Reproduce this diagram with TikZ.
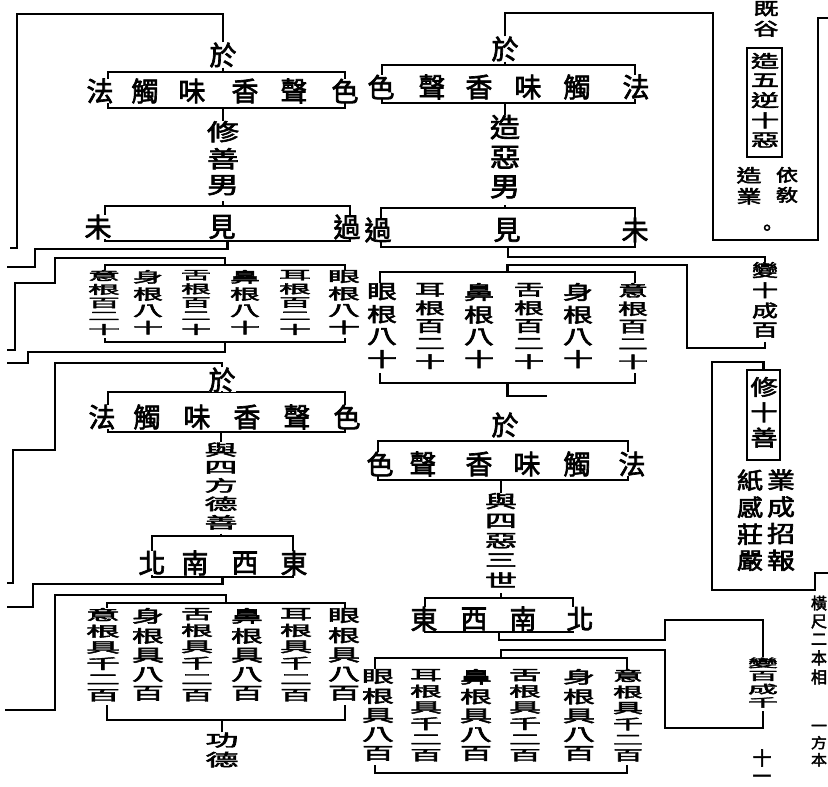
\documentclass[tikz,border=0pt]{standalone}
\usepackage{fontspec}
\usepackage{graphicx}
\newfontfamily\cjk[AutoFakeBold=2.5]{Noto Sans CJK TC}
\usetikzlibrary{calc}
% a column of characters squeezed into a box of width #1 and height #2
\newcommand\vstack[3]{\resizebox*{#1}{#2}{\fontsize{20}{22}\selectfont\begin{tabular}{@{}c@{}}#3\end{tabular}}}

\begin{document}
\begin{tikzpicture}[x=1pt, y=-1pt,
  wire/.style={line width=2.2pt},
  rootbox/.style={draw, line width=2.2pt, inner sep=0pt},
  glyph/.style={font=\cjk\bfseries\fontsize{27}{27}\selectfont, fill=white, inner sep=0pt},
  col/.style={font=\cjk\bfseries, fill=white, inner sep=0pt}
]
  \useasboundingbox (0,0) rectangle (828,787);
  \fill[white] (0,0) rectangle (828,787);
  \clip (0,0) rectangle (828,787);

  % boxes
  \node[rootbox, minimum width=237pt, minimum height=36pt]  (boxA1)  at (226.5,90) {};
  \node[rootbox, minimum width=245pt, minimum height=35pt]  (boxA2)  at (227.5,223.5) {};
  \node[rootbox, minimum width=253pt, minimum height=38pt]  (boxAR1) at (508.5,84) {};
  \node[rootbox, minimum width=254pt, minimum height=39pt]  (boxAR2) at (508,227.5) {};
  \node[rootbox, minimum width=240pt, minimum height=77pt]  (boxB1)  at (225,303.5) {};
  \node[rootbox, minimum width=255pt, minimum height=111pt] (boxB2)  at (507.5,327.5) {};
  \node[rootbox, minimum width=237pt, minimum height=40pt]  (boxC1)  at (226.5,412) {};
  \node[rootbox, minimum width=141pt, minimum height=41pt]  (boxC2)  at (222.5,556.5) {};
  \node[rootbox, minimum width=250pt, minimum height=39pt]  (boxCR1) at (503,460.5) {};
  \node[rootbox, minimum width=148pt, minimum height=34pt]  (boxCR2) at (499,615) {};
  \node[rootbox, minimum width=238pt, minimum height=117pt] (boxD1)  at (226,661.5) {};
  \node[rootbox, minimum width=252pt, minimum height=115pt] (boxD2)  at (501,715.5) {};
  \node[rootbox, minimum width=35pt, minimum height=109pt]  (boxE1)  at (764.5,102.5) {};
  \node[rootbox, minimum width=33pt, minimum height=90pt]   (boxE2)  at (763.5,415) {};

  % labels standing on the connectors
  \node[glyph] (yuA) at (223,55) {於};
  \node[glyph] (yuB) at (505,49) {於};
  \node[glyph] (yuC) at (222,380) {於};
  \node[glyph] (yuD) at (505,425) {於};
  \node[col] (vA) at (223,161) {\vstack{32pt}{80pt}{修\\善\\男}};
  \node[col] (vB) at (505,160) {\vstack{30pt}{90pt}{造\\惡\\男}};
  \node[col] (vC) at (221,488) {\vstack{33pt}{91pt}{與\\四\\方\\德\\善}};
  \node[col] (vD) at (501,543) {\vstack{32pt}{100pt}{與\\四\\惡\\三\\世}};
  \node[col] (gongde) at (222,752) {\vstack{33pt}{39pt}{功\\德}};
  \node[col] (bianA) at (765,302) {\vstack{26pt}{80pt}{變\\十\\成\\百}};
  \node[col] (bianB) at (763,684) {\vstack{30pt}{53pt}{變\\百\\成\\千}};

  % free ends at the page edges
  \coordinate (outA)  at (10,248);
  \coordinate (outA2) at (7,267);
  \coordinate (outB1) at (7,350);
  \coordinate (outB2) at (7,363);
  \coordinate (outC1) at (7,583);
  \coordinate (outC2) at (7,607);
  \coordinate (outD1) at (5,710);
  \coordinate (outR1) at (828,18);
  \coordinate (outR2) at (828,573);
  \coordinate (stubB) at (547,396);

  % left column
  \draw[wire] (yuA.north) |- (17,14) |- (outA);
  \draw[wire] (yuA.south) -- (yuA.south |- boxA1.north);
  \draw[wire] (vA.north) -- (vA.north |- boxA1.south);
  \draw[wire] (vA.south) -- (vA.south |- boxA2.north);
  \draw[wire] (boxA2.south) |- (35,249) |- (outA2);
  \draw[wire] (boxB1.north) |- (55,258) |- (15,283) |- (outB1);
  \draw[wire] (boxB1.south) |- (28,352) |- (outB2);
  \draw[wire] (yuC.north) |- (55,363) |- (13,450) |- (outC1);
  \draw[wire] (yuC.south) -- (yuC.south |- boxC1.north);
  \draw[wire] (vC.north) -- (vC.north |- boxC1.south);
  \draw[wire] (vC.south) -- (vC.south |- boxC2.north);
  \draw[wire] (boxC2.south) |- (33,584) |- (outC2);
  \draw[wire] (boxD1.north) |- (55,595) |- (outD1);
  \draw[wire] (gongde.north) -- (gongde.north |- boxD1.south);
  % right column
  \draw[wire] (yuB.north) |- (713,13) |- (818,240) |- (outR1);
  \draw[wire] (yuB.south) -- (yuB.south |- boxAR1.north);
  \draw[wire] (vB.north) -- (vB.north |- boxAR1.south);
  \draw[wire] (vB.south) -- (vB.south |- boxAR2.north);
  \draw[wire] (boxAR2.south) |- (765,257) -- (bianA.north);
  \draw[wire] (boxB2.north) |- (687,265) |- (765,348) -- (bianA.south);
  \draw[wire] (boxB2.south) |- (stubB);
  \draw[wire] (vD.north) -- (vD.north |- boxCR1.south);
  \draw[wire] (vD.south) -- (vD.south |- boxCR2.north);
  \draw[wire] (boxCR2.south) |- (665,640) |- (763,620) -- (bianB.north);
  \draw[wire] (boxD2.north) |- (665,650) |- (763,728) -- (bianB.south);
  \draw[wire] (boxE2.north) |- (712,362) |- (815,590) |- (outR2);

  % rows of the six objects, the times and the quarters
  \foreach \x/\c in {100/法,145/觸,192/味,245/香,294/聲,345/色}
    \node[glyph] at (\x,91) {\c};
  \foreach \x/\c in {381/色,432/聲,479/香,528/味,577/觸,636/法}
    \node[glyph] at (\x,87) {\c};
  \foreach \x/\c in {98/未,222/見,347/過}
    \node[glyph] at (\x,227) {\c};
  \foreach \x/\c in {378/過,507/見,635/未}
    \node[glyph] at (\x,230) {\c};
  \foreach \x/\c in {102/法,147/觸,197/味,247/香,297/聲,347/色}
    \node[glyph] at (\x,417) {\c};
  \foreach \x/\c in {380/色,423/聲,479/香,527/味,577/觸,632/法}
    \node[glyph] at (\x,464) {\c};
  \foreach \x/\c in {152/北,195/南,245/西,294/東}
    \node[glyph] at (\x,563) {\c};
  \foreach \x/\c in {424/東,474/西,523/南,580/北}
    \node[glyph] at (\x,619) {\c};

  % six roots, tens
  \node[col] (b1a) at (104,304) {\vstack{32pt}{68pt}{意\\根\\百\\二\\十}};
  \node[col] (b1b) at (148,304) {\vstack{30pt}{68pt}{身\\根\\八\\十}};
  \node[col] (b1c) at (196,304) {\vstack{30pt}{68pt}{舌\\根\\百\\二\\十}};
  \node[col] (b1d) at (245,304) {\vstack{30pt}{68pt}{鼻\\根\\八\\十}};
  \node[col] (b1e) at (295,304) {\vstack{32pt}{68pt}{耳\\根\\百\\二\\十}};
  \node[col] (b1f) at (344,304) {\vstack{32pt}{68pt}{眼\\根\\八\\十}};
  \node[col] (b2a) at (382,328) {\vstack{30pt}{90pt}{眼\\根\\八\\十}};
  \node[col] (b2b) at (430,328) {\vstack{30pt}{90pt}{耳\\根\\百\\二\\十}};
  \node[col] (b2c) at (479,328) {\vstack{30pt}{90pt}{鼻\\根\\八\\十}};
  \node[col] (b2d) at (529,328) {\vstack{30pt}{90pt}{舌\\根\\百\\二\\十}};
  \node[col] (b2e) at (578,328) {\vstack{30pt}{90pt}{身\\根\\八\\十}};
  \node[col] (b2f) at (633,328) {\vstack{30pt}{90pt}{意\\根\\百\\二\\十}};
  % six roots, hundreds
  \node[col] (d1a) at (103,656.5) {\vstack{34pt}{97pt}{意\\根\\具\\千\\二\\百}};
  \node[col] (d1b) at (148,656.5) {\vstack{32pt}{97pt}{身\\根\\具\\八\\百}};
  \node[col] (d1c) at (197,656.5) {\vstack{32pt}{97pt}{舌\\根\\具\\千\\二\\百}};
  \node[col] (d1d) at (247,656.5) {\vstack{32pt}{97pt}{鼻\\根\\具\\八\\百}};
  \node[col] (d1e) at (296,656.5) {\vstack{32pt}{97pt}{耳\\根\\具\\千\\二\\百}};
  \node[col] (d1f) at (344,656.5) {\vstack{32pt}{97pt}{眼\\根\\具\\八\\百}};
  \node[col] (d2a) at (378,717) {\vstack{32pt}{96pt}{眼\\根\\具\\八\\百}};
  \node[col] (d2b) at (426,717) {\vstack{32pt}{96pt}{耳\\根\\具\\千\\二\\百}};
  \node[col] (d2c) at (476,717) {\vstack{32pt}{96pt}{鼻\\根\\具\\八\\百}};
  \node[col] (d2d) at (525,717) {\vstack{32pt}{96pt}{舌\\根\\具\\千\\二\\百}};
  \node[col] (d2e) at (579,717) {\vstack{32pt}{96pt}{身\\根\\具\\八\\百}};
  \node[col] (d2f) at (628,717) {\vstack{30pt}{96pt}{意\\根\\具\\千\\二\\百}};

  % right margin notes
  \node[col] (topE) at (766,21) {\vstack{25pt}{40pt}{既\\谷}};
  \node[col] (e1in) at (765,102.5) {\vstack{28pt}{99pt}{造\\五\\逆\\十\\惡}};
  \node[col] (e1r) at (787,187) {\vstack{22pt}{40pt}{依\\敎}};
  \node[col] (e1l) at (749,188) {\vstack{25pt}{42pt}{造\\業}};
  \node[glyph, font=\cjk\bfseries\fontsize{20}{20}\selectfont] (e1dot) at (767,230) {。};
  \node[col] (e2in) at (764,415) {\vstack{27pt}{76pt}{修\\十\\善}};
  \node[col] (e2r) at (781,523) {\vstack{28pt}{107pt}{業\\成\\招\\報}};
  \node[col] (e2l) at (750,523) {\vstack{26pt}{107pt}{紙\\感\\莊\\嚴}};
  \node[glyph, font=\cjk\bfseries\fontsize{19}{19}\selectfont] (shi) at (762,758) {十};
  \node[glyph, font=\cjk\bfseries\fontsize{19}{19}\selectfont] (yi) at (762,779) {一};
  \node[col] (edgeA) at (819,642) {\vstack{16pt}{93pt}{橫\\尺\\二\\本\\相}};
  \node[col] (edgeB) at (819,745) {\vstack{16pt}{50pt}{一\\方\\本}};
\end{tikzpicture}
\end{document}
